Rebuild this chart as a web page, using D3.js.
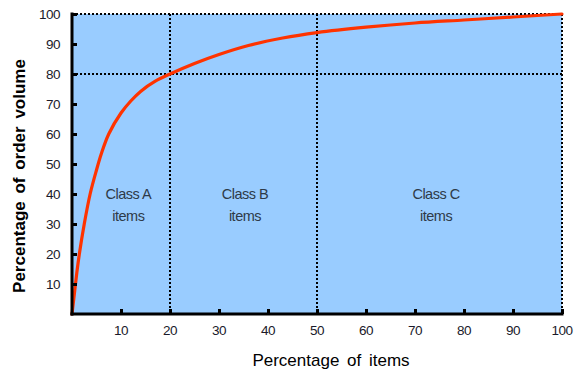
<!DOCTYPE html>
<html>
<head>
<meta charset="utf-8">
<script src="https://cdn.jsdelivr.net/npm/d3@7"></script>
<style>
  html, body { margin: 0; padding: 0; background: #fff; }
  svg { display: block; font-family: "Liberation Sans", Arial, sans-serif; }
</style>
</head>
<body>
<svg id="chart" width="576" height="377"></svg>
<script>
// Cumulative share of order volume (ABC analysis curve)
const itemPct   = [0, 0.5, 1, 1.5, 2.5, 3.7, 5, 6, 7.5, 10, 12, 14, 17, 20, 25, 30, 36, 43, 50, 60, 70, 80, 90, 100];
const volumePct = [0, 7, 14, 20, 30, 40, 48, 53.5, 60, 67, 71, 74.2, 77.6, 80, 83.5, 86.5, 89.5, 92, 93.8, 95.6, 97, 98, 99, 100];

const xTicks = [10, 20, 30, 40, 50, 60, 70, 80, 90, 100];
const yTicks = [10, 20, 30, 40, 50, 60, 70, 80, 90, 100];

// Class boundaries and labels (label anchor in % of items)
const classBounds = [20, 50];
const volumeCut = 80;
const classLabels = [
  { name: "Class A", at: 11.5 },
  { name: "Class B", at: 35.3 },
  { name: "Class C", at: 74.3 }
];

const svg = d3.select("#chart");
const margin = { left: 72, right: 14, top: 14, bottom: 63 };
const W = 576, H = 377;

const x = d3.scaleLinear().domain([0, 100]).range([margin.left, W - margin.right]);
const y = d3.scaleLinear().domain([0, 100]).range([H - margin.bottom, margin.top]);

// plot background
svg.append("rect")
  .attr("x", x(0)).attr("y", y(100))
  .attr("width", x(100) - x(0)).attr("height", y(0) - y(100))
  .attr("fill", "#99ccff");

// dotted guides: frame top/right, class boundaries, 80% cut
const dotted = svg.append("g")
  .attr("stroke", "#000").attr("stroke-width", 2).attr("stroke-dasharray", "2,2").attr("fill", "none");
dotted.append("line").attr("x1", x(0)).attr("x2", x(100)).attr("y1", y(100)).attr("y2", y(100));
dotted.append("line").attr("x1", x(100)).attr("x2", x(100)).attr("y1", y(100)).attr("y2", y(0));
dotted.append("line").attr("x1", x(0)).attr("x2", x(100)).attr("y1", y(volumeCut)).attr("y2", y(volumeCut));
classBounds.forEach(b => {
  dotted.append("line").attr("x1", x(b)).attr("x2", x(b)).attr("y1", y(100)).attr("y2", y(0));
});

// class labels
classLabels.forEach(c => {
  const cx = x(c.at);
  const t = svg.append("text")
    .attr("text-anchor", "middle")
    .attr("font-size", 14.5)
    .attr("letter-spacing", -0.5)
    .attr("fill", "#2e3a48");
  t.append("tspan").attr("x", cx).attr("y", 199).text(c.name);
  t.append("tspan").attr("x", cx).attr("y", 221).text("items");
});

// curve
const line = d3.line()
  .x((d, i) => x(itemPct[i]))
  .y(d => y(d))
  .curve(d3.curveCatmullRom.alpha(0.5));
svg.append("path")
  .datum(volumePct)
  .attr("d", line)
  .attr("fill", "none")
  .attr("stroke", "#ff3300")
  .attr("stroke-width", 3.2)
  .attr("stroke-linecap", "round");

// axes with inward ticks
const xAxis = svg.append("g")
  .attr("transform", `translate(0,${y(0)})`)
  .call(d3.axisTop(x).tickValues(xTicks).tickSize(5).tickFormat(""));
const yAxis = svg.append("g")
  .attr("transform", `translate(${x(0)},0)`)
  .call(d3.axisRight(y).tickValues(yTicks).tickSize(5).tickFormat(""));
[xAxis, yAxis].forEach(a => {
  a.select(".domain").attr("stroke", "#000").attr("stroke-width", 3);
  a.selectAll(".tick line").attr("stroke", "#000").attr("stroke-width", 3);
});
// plain domain lines without end stubs
xAxis.select(".domain").attr("d", `M${x(0) - 1.5},0H${x(100) + 1.5}`);
yAxis.select(".domain").attr("d", `M0,${y(0) + 1.5}V${y(100) - 1.5}`);

// tick labels
svg.append("g").selectAll("text").data(xTicks).join("text")
  .attr("x", d => x(d)).attr("y", y(0) + 21)
  .attr("text-anchor", "middle")
  .attr("font-size", 13.5).attr("letter-spacing", -0.5).attr("fill", "#1a1a2a")
  .text(d => d);
svg.append("g").selectAll("text").data(yTicks).join("text")
  .attr("x", x(0) - 12).attr("y", d => y(d) + 5)
  .attr("text-anchor", "end")
  .attr("font-size", 13.5).attr("letter-spacing", -0.5).attr("fill", "#1a1a2a")
  .text(d => d);

// axis titles
svg.append("text")
  .attr("x", 331).attr("y", 366)
  .attr("text-anchor", "middle")
  .attr("font-size", 17).attr("word-spacing", 3).attr("fill", "#000")
  .text("Percentage of items");
svg.append("text")
  .attr("transform", `translate(25,176) rotate(-90)`)
  .attr("text-anchor", "middle")
  .attr("font-size", 17).attr("font-weight", "bold").attr("word-spacing", 3).attr("fill", "#000")
  .text("Percentage of order volume");
</script>
</body>
</html>
